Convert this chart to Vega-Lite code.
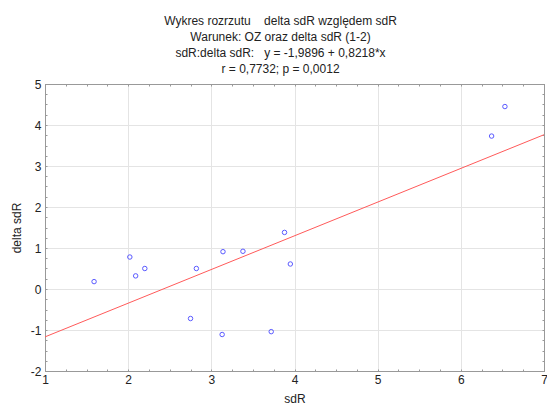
{
  "$schema": "https://vega.github.io/schema/vega-lite/v6.json",
  "width": 499,
  "height": 287,
  "autosize": "none",
  "padding": {"left": 45, "top": 84, "right": 3, "bottom": 39},
  "background": "white",
  "title": {
    "text": ["Wykres rozrzutu\u00a0\u00a0\u00a0 delta sdR względem sdR", "Warunek: OZ oraz delta sdR (1-2)", "sdR:delta sdR:\u00a0\u00a0 y = -1,9896 + 0,8218*x", "r = 0,7732; p = 0,0012"],
    "font": "Liberation Sans",
    "fontSize": 12,
    "fontWeight": "normal",
    "lineHeight": 16,
    "offset": 2,
    "dx": -14,
    "anchor": "middle",
    "color": "#222222"
  },
  "config": {
    "view": {"stroke": "#999999", "strokeWidth": 1},
    "axis": {
      "labelFont": "Liberation Sans",
      "titleFont": "Liberation Sans",
      "labelFontSize": 12,
      "titleFontSize": 12,
      "titleFontWeight": "normal",
      "labelColor": "#222222",
      "titleColor": "#222222",
      "domainColor": "#999999",
      "tickColor": "#999999",
      "gridColor": "#e4e4e4",
      "labelOverlap": false,
      "labelBound": false,
      "labelFlush": false
    }
  },
  "datasets": {
    "points": [
      {"sdR": 1.59, "delta": 0.18},
      {"sdR": 2.02, "delta": 0.78},
      {"sdR": 2.09, "delta": 0.32},
      {"sdR": 2.20, "delta": 0.50},
      {"sdR": 2.75, "delta": -0.72},
      {"sdR": 2.82, "delta": 0.50},
      {"sdR": 3.14, "delta": 0.91},
      {"sdR": 3.13, "delta": -1.11},
      {"sdR": 3.38, "delta": 0.92},
      {"sdR": 3.72, "delta": -1.04},
      {"sdR": 3.88, "delta": 1.38},
      {"sdR": 3.95, "delta": 0.61},
      {"sdR": 6.53, "delta": 4.45},
      {"sdR": 6.37, "delta": 3.73}
    ],
    "fit": [
      {"sdR": 1, "delta": -1.1678},
      {"sdR": 7, "delta": 3.763}
    ]
  },
  "layer": [
    {
      "data": {"name": "points"},
      "mark": {"type": "point", "shape": "circle", "filled": false, "color": "#5a5aff", "size": 20, "strokeWidth": 1, "opacity": 1},
      "encoding": {
        "x": {
          "field": "sdR", "type": "quantitative",
          "scale": {"domain": [1, 7], "nice": false, "zero": false},
          "axis": {
            "title": "sdR",
            "orient": "bottom",
            "values": [1, 1.25, 1.5, 1.75, 2, 2.25, 2.5, 2.75, 3, 3.25, 3.5, 3.75, 4, 4.25, 4.5, 4.75, 5, 5.25, 5.5, 5.75, 6, 6.25, 6.5, 6.75, 7],
            "labelExpr": "datum.value % 1 === 0 ? '' + datum.value : ''",
            "tickSize": -2,
            "labelPadding": 5,
            "titlePadding": 8,
            "grid": true,
            "gridOpacity": {"condition": {"test": "datum.value % 1 === 0 && datum.value > 1 && datum.value < 7", "value": 1}, "value": 0}
          }
        },
        "y": {
          "field": "delta", "type": "quantitative",
          "scale": {"domain": [-2, 5], "nice": false, "zero": false},
          "axis": {
            "title": "delta sdR",
            "orient": "left",
            "values": [-2, -1.75, -1.5, -1.25, -1, -0.75, -0.5, -0.25, 0, 0.25, 0.5, 0.75, 1, 1.25, 1.5, 1.75, 2, 2.25, 2.5, 2.75, 3, 3.25, 3.5, 3.75, 4, 4.25, 4.5, 4.75, 5],
            "labelExpr": "datum.value % 1 === 0 ? '' + datum.value : ''",
            "tickSize": -2,
            "labelPadding": 6,
            "titlePadding": 7,
            "grid": true,
            "gridOpacity": {"condition": {"test": "datum.value % 1 === 0 && datum.value > -2 && datum.value < 5", "value": 1}, "value": 0}
          }
        }
      }
    },
    {
      "data": {"name": "fit"},
      "mark": {"type": "line", "color": "#ff5a5a", "strokeWidth": 1},
      "encoding": {
        "x": {
          "field": "sdR", "type": "quantitative",
          "axis": {
            "title": null, "orient": "top", "labels": false, "grid": false,
            "values": [1, 1.25, 1.5, 1.75, 2, 2.25, 2.5, 2.75, 3, 3.25, 3.5, 3.75, 4, 4.25, 4.5, 4.75, 5, 5.25, 5.5, 5.75, 6, 6.25, 6.5, 6.75, 7],
            "tickSize": -2
          }
        },
        "y": {
          "field": "delta", "type": "quantitative",
          "axis": {
            "title": null, "orient": "right", "labels": false, "grid": false,
            "values": [-2, -1.75, -1.5, -1.25, -1, -0.75, -0.5, -0.25, 0, 0.25, 0.5, 0.75, 1, 1.25, 1.5, 1.75, 2, 2.25, 2.5, 2.75, 3, 3.25, 3.5, 3.75, 4, 4.25, 4.5, 4.75, 5],
            "tickSize": -2
          }
        }
      }
    }
  ],
  "resolve": {"axis": {"x": "independent", "y": "independent"}}
}
